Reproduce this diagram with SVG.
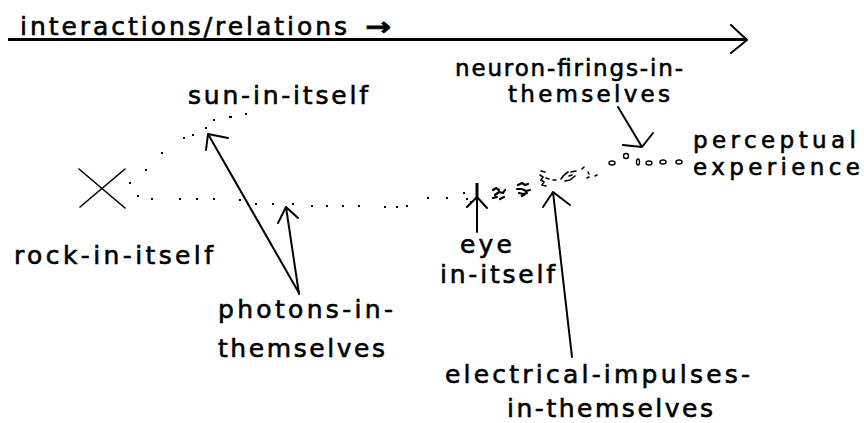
<svg xmlns="http://www.w3.org/2000/svg" width="864" height="423" viewBox="0 0 864 423">
<style>
text{font-family:"DejaVu Sans","Liberation Sans",sans-serif;font-size:25px;fill:#000;stroke:#000;stroke-width:0.6}
text.tight{font-size:23px}
.ln{stroke:#000;stroke-width:2;fill:none;stroke-linecap:round;stroke-linejoin:round}
.thin{stroke:#000;stroke-width:1.6;fill:none;stroke-linecap:round}
.blob{stroke:#000;stroke-width:2.2;fill:none;stroke-linecap:round}
.dot{fill:#000}
.ring{stroke:#000;stroke-width:1.4;fill:none}
</style>
<rect width="864" height="423" fill="#fff"/>
<g id="axis">
<text x="20" y="35"><tspan textLength="327" lengthAdjust="spacing">interactions/relations</tspan><tspan x="365" y="35" textLength="26" lengthAdjust="spacingAndGlyphs" font-weight="bold">→</tspan></text>
<line x1="8" y1="39.5" x2="747" y2="39.5" stroke="#000" stroke-width="3"/>
<path class="ln" d="M731,25 L747,40 L731,53"/>
</g>
<g id="rock">
<path class="thin" d="M79,169 L125,208 M125,169 L80,207"/>
<text x="14" y="264" textLength="199" lengthAdjust="spacing">rock-in-itself</text>
</g>
<g id="sun">
<text x="188" y="104" textLength="180" lengthAdjust="spacing">sun-in-itself</text>
</g>
<g id="photons">
<text x="218" y="318" textLength="175" lengthAdjust="spacing">photons-in-</text>
<text x="218" y="357" textLength="167" lengthAdjust="spacing">themselves</text>
</g>
<g id="eye">
<line x1="477" y1="183" x2="477" y2="200" stroke="#000" stroke-width="3"/>
<text x="460" y="253" textLength="52" lengthAdjust="spacing">eye</text>
<text x="440" y="283" textLength="115" lengthAdjust="spacing">in-itself</text>
</g>
<g id="impulses">
<path class="blob" d="M493,190 l3,-2 l3,2 M495,195 l4,-3 l4,1 l2,-3 M493,198 l4,-1 M500,199 l4,-2"/>
<path class="blob" d="M518,185 l4,-2 l3,2 l3,-1 M517,189 l5,0 l4,2 l4,-1 M519,193 l4,1 l4,-1 M522,196 l3,-2"/>
<path class="thin" d="M541,171 l4,1 M540,175 l3,2 l-2,3 l3,2 l-2,3 l4,1 M546,178 l3,1 M553,180 l3,0"/>
<path class="thin" d="M561,179 l3,-4 l4,-3 M565,181 l5,-1 l5,-4 M571,172 l5,-1 M569,176 l3,-1"/>
<path class="thin" d="M582,169 l2,-2 M588,172 l1,2 M589,177 l-2,1 M595,176 l2,-1"/>
<text x="445" y="383" textLength="305" lengthAdjust="spacing">electrical-impulses-</text>
<text x="507" y="417" textLength="206" lengthAdjust="spacing">in-themselves</text>
</g>
<g id="neurons">
<text class="tight" x="455" y="76" textLength="228" lengthAdjust="spacing">neuron-firings-in-</text>
<text class="tight" x="508" y="102" textLength="162" lengthAdjust="spacing">themselves</text>
</g>
<g id="experience">
<ellipse class="ring" cx="612" cy="163" rx="3" ry="2"/>
<ellipse class="ring" cx="626" cy="156" rx="2.5" ry="2.5"/>
<ellipse class="ring" cx="638" cy="162" rx="1.5" ry="3"/>
<ellipse class="ring" cx="649" cy="163" rx="3" ry="2"/>
<ellipse class="ring" cx="663" cy="162" rx="3" ry="2"/>
<ellipse class="ring" cx="679" cy="162" rx="3" ry="2"/>
<text class="tight" x="693" y="148" textLength="163" lengthAdjust="spacing">perceptual</text>
<text class="tight" x="693" y="175" textLength="167" lengthAdjust="spacing">experience</text>
</g>
<g id="connectors">
<g class="dot">
<rect x="129" y="182" width="2" height="2"/><rect x="145" y="169" width="2" height="2"/><rect x="161" y="152" width="2" height="2"/><rect x="183" y="137" width="2" height="2"/><rect x="192" y="134" width="2" height="2"/><rect x="205" y="127" width="2" height="2"/><rect x="213" y="119" width="2" height="2"/><rect x="229" y="116" width="3" height="2"/><rect x="245" y="113" width="2" height="2"/>
<rect x="137" y="195" width="2" height="2"/><rect x="151" y="198" width="2" height="2"/><rect x="179" y="198" width="2" height="2"/><rect x="196" y="198" width="2" height="2"/><rect x="213" y="198" width="2" height="2"/><rect x="239" y="199" width="2" height="2"/><rect x="255" y="203" width="2" height="2"/><rect x="272" y="203" width="2" height="2"/><rect x="292" y="203" width="2" height="2"/><rect x="311" y="205" width="2" height="2"/><rect x="326" y="205" width="2" height="2"/><rect x="342" y="205" width="2" height="2"/><rect x="358" y="205" width="2" height="2"/><rect x="384" y="206" width="2" height="2"/><rect x="396" y="206" width="2" height="2"/><rect x="406" y="205" width="2" height="2"/><rect x="427" y="197" width="2" height="2"/><rect x="446" y="197" width="2" height="2"/><rect x="463" y="192" width="2" height="2"/><rect x="466" y="198" width="2" height="2"/><rect x="470" y="201" width="2" height="2"/>
</g>
<path class="ln" d="M299,293 L208,134 M206,150 L208,134 L228,138"/>
<path class="ln" d="M299,294 L286,207 M278,223 L286,207 L298,218"/>
<path class="ln" d="M477,200 L477,232 M467,207 L477,197 L487,208"/>
<path class="ln" d="M572,357 L553,192 M543,207 L553,192 L570,205"/>
<path class="ln" d="M618,107 L642,147 M623,145 L642,147 L653,133"/>
</g>
</svg>
